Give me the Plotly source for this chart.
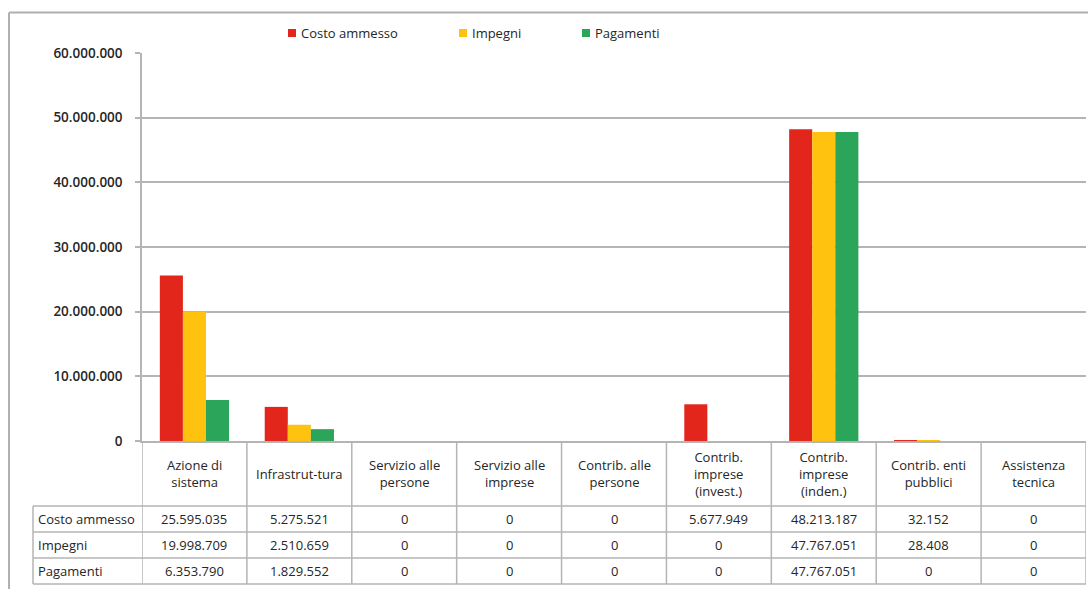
import plotly.graph_objects as go

categories = ["Azione di<br>sistema", "Infrastrut-tura", "Servizio alle<br>persone",
              "Servizio alle<br>imprese", "Contrib. alle<br>persone",
              "Contrib.<br>imprese<br>(invest.)", "Contrib.<br>imprese<br>(inden.)",
              "Contrib. enti<br>pubblici", "Assistenza<br>tecnica"]
series_names = ["Costo ammesso", "Impegni", "Pagamenti"]
costo_ammesso = [25595035, 5275521, 0, 0, 0, 5677949, 48213187, 32152, 0]
impegni = [19998709, 2510659, 0, 0, 0, 0, 47767051, 28408, 0]
pagamenti = [6353790, 1829552, 0, 0, 0, 0, 47767051, 0, 0]
y_ticks = [0, 10000000, 20000000, 30000000, 40000000, 50000000, 60000000]

colors = ["#e3261b", "#ffc20e", "#2aa55a"]
series = [costo_ammesso, impegni, pagamenti]

W, H = 1088, 589
L, R, T, B = 142, 1086, 53, 441
PW, PH = R - L, B - T


def px(x):
    return (x - L) / PW


def py(y):
    return (B - y) / PH


def fmt(v):
    return f"{v:,}".replace(",", ".")


FONT = "Open Sans"
TXT = "#262626"
GRID = "#b4b4b4"
FS = 13

fig = go.Figure()
idx = list(range(len(categories)))
for name, vals, c in zip(series_names, series, colors):
    fig.add_trace(go.Bar(x=idx, y=vals, name=name, marker=dict(color=c, line=dict(width=0))))

shapes = []
annotations = []
# outer frame
shapes.append(dict(type="line", xref="paper", yref="paper", x0=px(9), x1=px(1090), y0=py(12.5), y1=py(12.5),
                   line=dict(color="#b0b0b0", width=2)))
shapes.append(dict(type="line", xref="paper", yref="paper", x0=px(9), x1=px(9), y0=py(12.5), y1=py(592),
                   line=dict(color="#b0b0b0", width=2)))

# legend (custom)
legend_x = [288, 459, 582]
for name, c, lx in zip(series_names, colors, legend_x):
    shapes.append(dict(type="rect", xref="paper", yref="paper", x0=px(lx), x1=px(lx + 8),
                       y0=py(29), y1=py(37), fillcolor=c, line=dict(width=0)))
    annotations.append(dict(x=px(lx + 11), y=py(33), xref="paper", yref="paper", text=name, showarrow=False,
                            xanchor="left", yanchor="middle",
                            font=dict(family=FONT, size=FS, color=TXT)))

row_lines = [506, 532, 558, 584]
for y in row_lines:
    shapes.append(dict(type="line", xref="paper", yref="paper", x0=px(33), x1=px(R), y0=py(y), y1=py(y),
                       line=dict(color=GRID, width=1.5)))
shapes.append(dict(type="line", xref="paper", yref="paper", x0=px(33), x1=px(33), y0=py(506), y1=py(584),
                   line=dict(color=GRID, width=1.5)))
for i in range(len(categories) + 1):
    shapes.append(dict(type="line", xref="x", yref="paper", x0=i - 0.5, x1=i - 0.5, y0=py(441), y1=py(584),
                       line=dict(color=GRID, width=1.5)))

# header labels
for i, c in enumerate(categories):
    annotations.append(dict(x=i, y=py(474), xref="x", yref="paper", text=c, showarrow=False,
                            xanchor="center", yanchor="middle", align="center",
                            font=dict(family=FONT, size=FS, color=TXT)))
# rows
row_centers = [519, 545, 571]
for name, vals, yc in zip(series_names, series, row_centers):
    annotations.append(dict(x=px(36), y=py(yc), xref="paper", yref="paper", text=name, showarrow=False,
                            xanchor="left", yanchor="middle",
                            font=dict(family=FONT, size=FS, color=TXT)))
    for i, v in enumerate(vals):
        annotations.append(dict(x=i, y=py(yc), xref="x", yref="paper", text=fmt(v), showarrow=False,
                                xanchor="center", yanchor="middle",
                                font=dict(family=FONT, size=FS, color=TXT)))

fig.update_layout(
    width=W, height=H,
    margin=dict(l=L, r=W - R, t=T, b=H - B, pad=0),
    paper_bgcolor="white", plot_bgcolor="white",
    separators=",.",
    barmode="group", bargap=0.34, bargroupgap=0,
    font=dict(family=FONT, size=12, color=TXT),
    showlegend=False,
    xaxis=dict(range=[-0.5, len(categories) - 0.5], showticklabels=False, showgrid=False, zeroline=False,
               showline=True, linecolor=GRID, linewidth=1.5, ticks="", fixedrange=True),
    yaxis=dict(range=[0, 60000000], tickvals=y_ticks, tickformat=",d", showgrid=True, gridcolor=GRID,
               gridwidth=1.5, zeroline=False, showline=True, linecolor=GRID, linewidth=1.5,
               ticks="outside", ticklen=5, tickcolor=GRID, tickwidth=1.5, ticklabelstandoff=10,
               tickfont=dict(family=FONT, size=13.5, color=TXT, weight=600)),
    shapes=shapes, annotations=annotations,
)

fig.write_html("out.html", config={"displayModeBar": False},
               post_script="document.body.style.margin='0';document.body.style.overflow='hidden';")
